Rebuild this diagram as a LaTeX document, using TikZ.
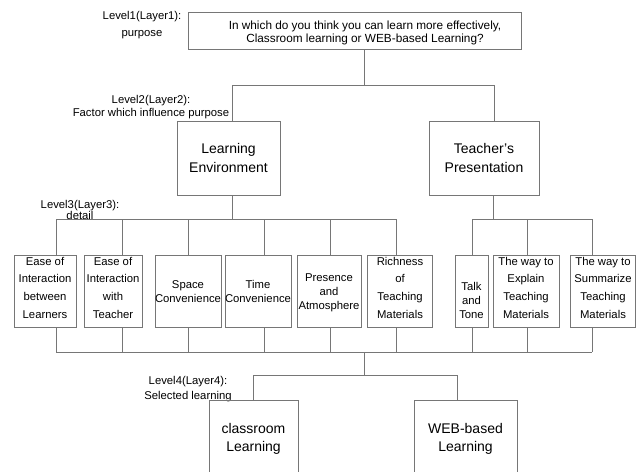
\documentclass[tikz,border=0pt]{standalone}
\usepackage{fontspec}
\setmainfont{Liberation Sans}
\definecolor{lc}{RGB}{118,118,118}
\begin{document}
\begin{tikzpicture}[x=1pt,y=-1pt,
  every node/.style={inner sep=0pt, align=center, text=black},
  lab/.style={font=\fontsize{11.3}{#1}\selectfont},
  box/.style={draw=lc, line width=1pt, text depth=0pt},
  sbox/.style={box, minimum height=72pt, font=\fontsize{11.3}{14}\selectfont},
  qbox/.style={box, minimum height=72pt, font=\fontsize{11.3}{17.7}\selectfont, text height=54.2pt},
  bigbox/.style={box, font=\fontsize{14}{#1}\selectfont},
  con/.style={draw=lc, line width=1pt}
]
\useasboundingbox (0,0) rectangle (641,472);
\clip (0,0) rectangle (641,472);

% Level 1
\node[box, minimum width=333pt, minimum height=37pt, font=\fontsize{11.8}{13}\selectfont, text height=23.4pt] (top) at (354.5,30.5)
  {\hspace*{21pt}In which do you think you can learn more effectively,\\\hspace*{21pt}Classroom learning or WEB-based Learning?};
\node[lab=17] (lv1) at (142,25.5) {Level1(Layer1):\\purpose};

% Level 2
\node[lab=13] (lv2) at (151,107.5) {Level2(Layer2):\\Factor which influence purpose};
\node[bigbox=19, minimum width=103pt, minimum height=74pt, text height=28pt] (le) at (228.5,158) {Learning\\Environment};
\node[bigbox=19, minimum width=110pt, minimum height=74pt, text height=28pt] (te) at (484,158) {Teacher's\\Presentation};

% Level 3
\node[lab=11] (lv3) at (80,209.5) {Level3(Layer3):\\detail};
\node[qbox, minimum width=62pt] (b1) at (45,291) {Ease of\\Interaction\\between\\Learners};
\node[qbox, minimum width=58pt] (b2) at (113,291) {Ease of\\Interaction\\with\\Teacher};
\node[sbox, minimum width=66pt, text height=22pt] (b3) at (188,291) {Space\\Convenience};
\node[sbox, minimum width=66pt, text height=22pt] (b4) at (258,291) {Time\\Convenience};
\node[sbox, minimum width=64pt, text height=36pt] (b5) at (329,291) {Presence\\and\\Atmosphere};
\node[qbox, minimum width=65pt] (b6) at (400,291) {Richness\\of\\Teaching\\Materials};
\node[sbox, minimum width=33pt, text height=54pt] (b7) at (471.5,291) {Talk\\and\\Tone};
\node[qbox, minimum width=66pt] (b8) at (526,291) {The way to\\Explain\\Teaching\\Materials};
\node[qbox, minimum width=65pt] (b9) at (603,291) {The way to\\Summarize\\Teaching\\Materials};

% Level 4
\node[lab=15] (lv4) at (188,389.5) {Level4(Layer4):\\Selected learning};
\node[bigbox=18, minimum width=89pt, minimum height=100pt, text height=2pt] (cl) at (253.5,450) {classroom\\Learning};
\node[bigbox=18, minimum width=103pt, minimum height=100pt, text height=2pt] (wb) at (465.5,450) {WEB-based\\Learning};

% junction coordinates
\coordinate (j1) at (364,85);
\coordinate (j2l) at (232,85);
\coordinate (j2r) at (494,85);
\coordinate (j3l) at (232,219);
\coordinate (j3r) at (493,219);
\coordinate (d1) at (56,219);
\coordinate (d2) at (122,219);
\coordinate (d3) at (188,219);
\coordinate (d4) at (264,219);
\coordinate (d5) at (330,219);
\coordinate (d6) at (396,219);
\coordinate (d7) at (472,219);
\coordinate (d8) at (527,219);
\coordinate (d9) at (592,219);
\coordinate (u1) at (56,352);
\coordinate (u2) at (122,352);
\coordinate (u3) at (188,352);
\coordinate (u4) at (264,352);
\coordinate (u5) at (330,352);
\coordinate (u6) at (396,352);
\coordinate (u7) at (472,352);
\coordinate (u8) at (527,352);
\coordinate (u9) at (592,352);
\coordinate (k1) at (364,352);
\coordinate (k2) at (364,375);
\coordinate (k2l) at (253,375);
\coordinate (k2r) at (457,375);

% Level 1 -> Level 2
\draw[con] (top.south -| j1) -- (j1);
\draw[con] (le.north -| j2l) -- (j2l) -- (j2r) -- (te.north -| j2r);

% Level 2 -> Level 3
\draw[con] (le.south -| j3l) -- (j3l);
\draw[con] (d1) -- (d6);
\draw[con] (te.south -| j3r) -- (j3r);
\draw[con] (d7) -- (d9);
\foreach \i in {1,...,9} {
  \draw[con] (d\i) -- (b\i.north -| d\i);
  \draw[con] (b\i.south -| u\i) -- (u\i);
}

% Level 3 -> Level 4
\draw[con] (u1) -- (u9);
\draw[con] (k1) -- (k2);
\draw[con] (cl.north -| k2l) -- (k2l) -- (k2r) -- (wb.north -| k2r);
\end{tikzpicture}
\end{document}
